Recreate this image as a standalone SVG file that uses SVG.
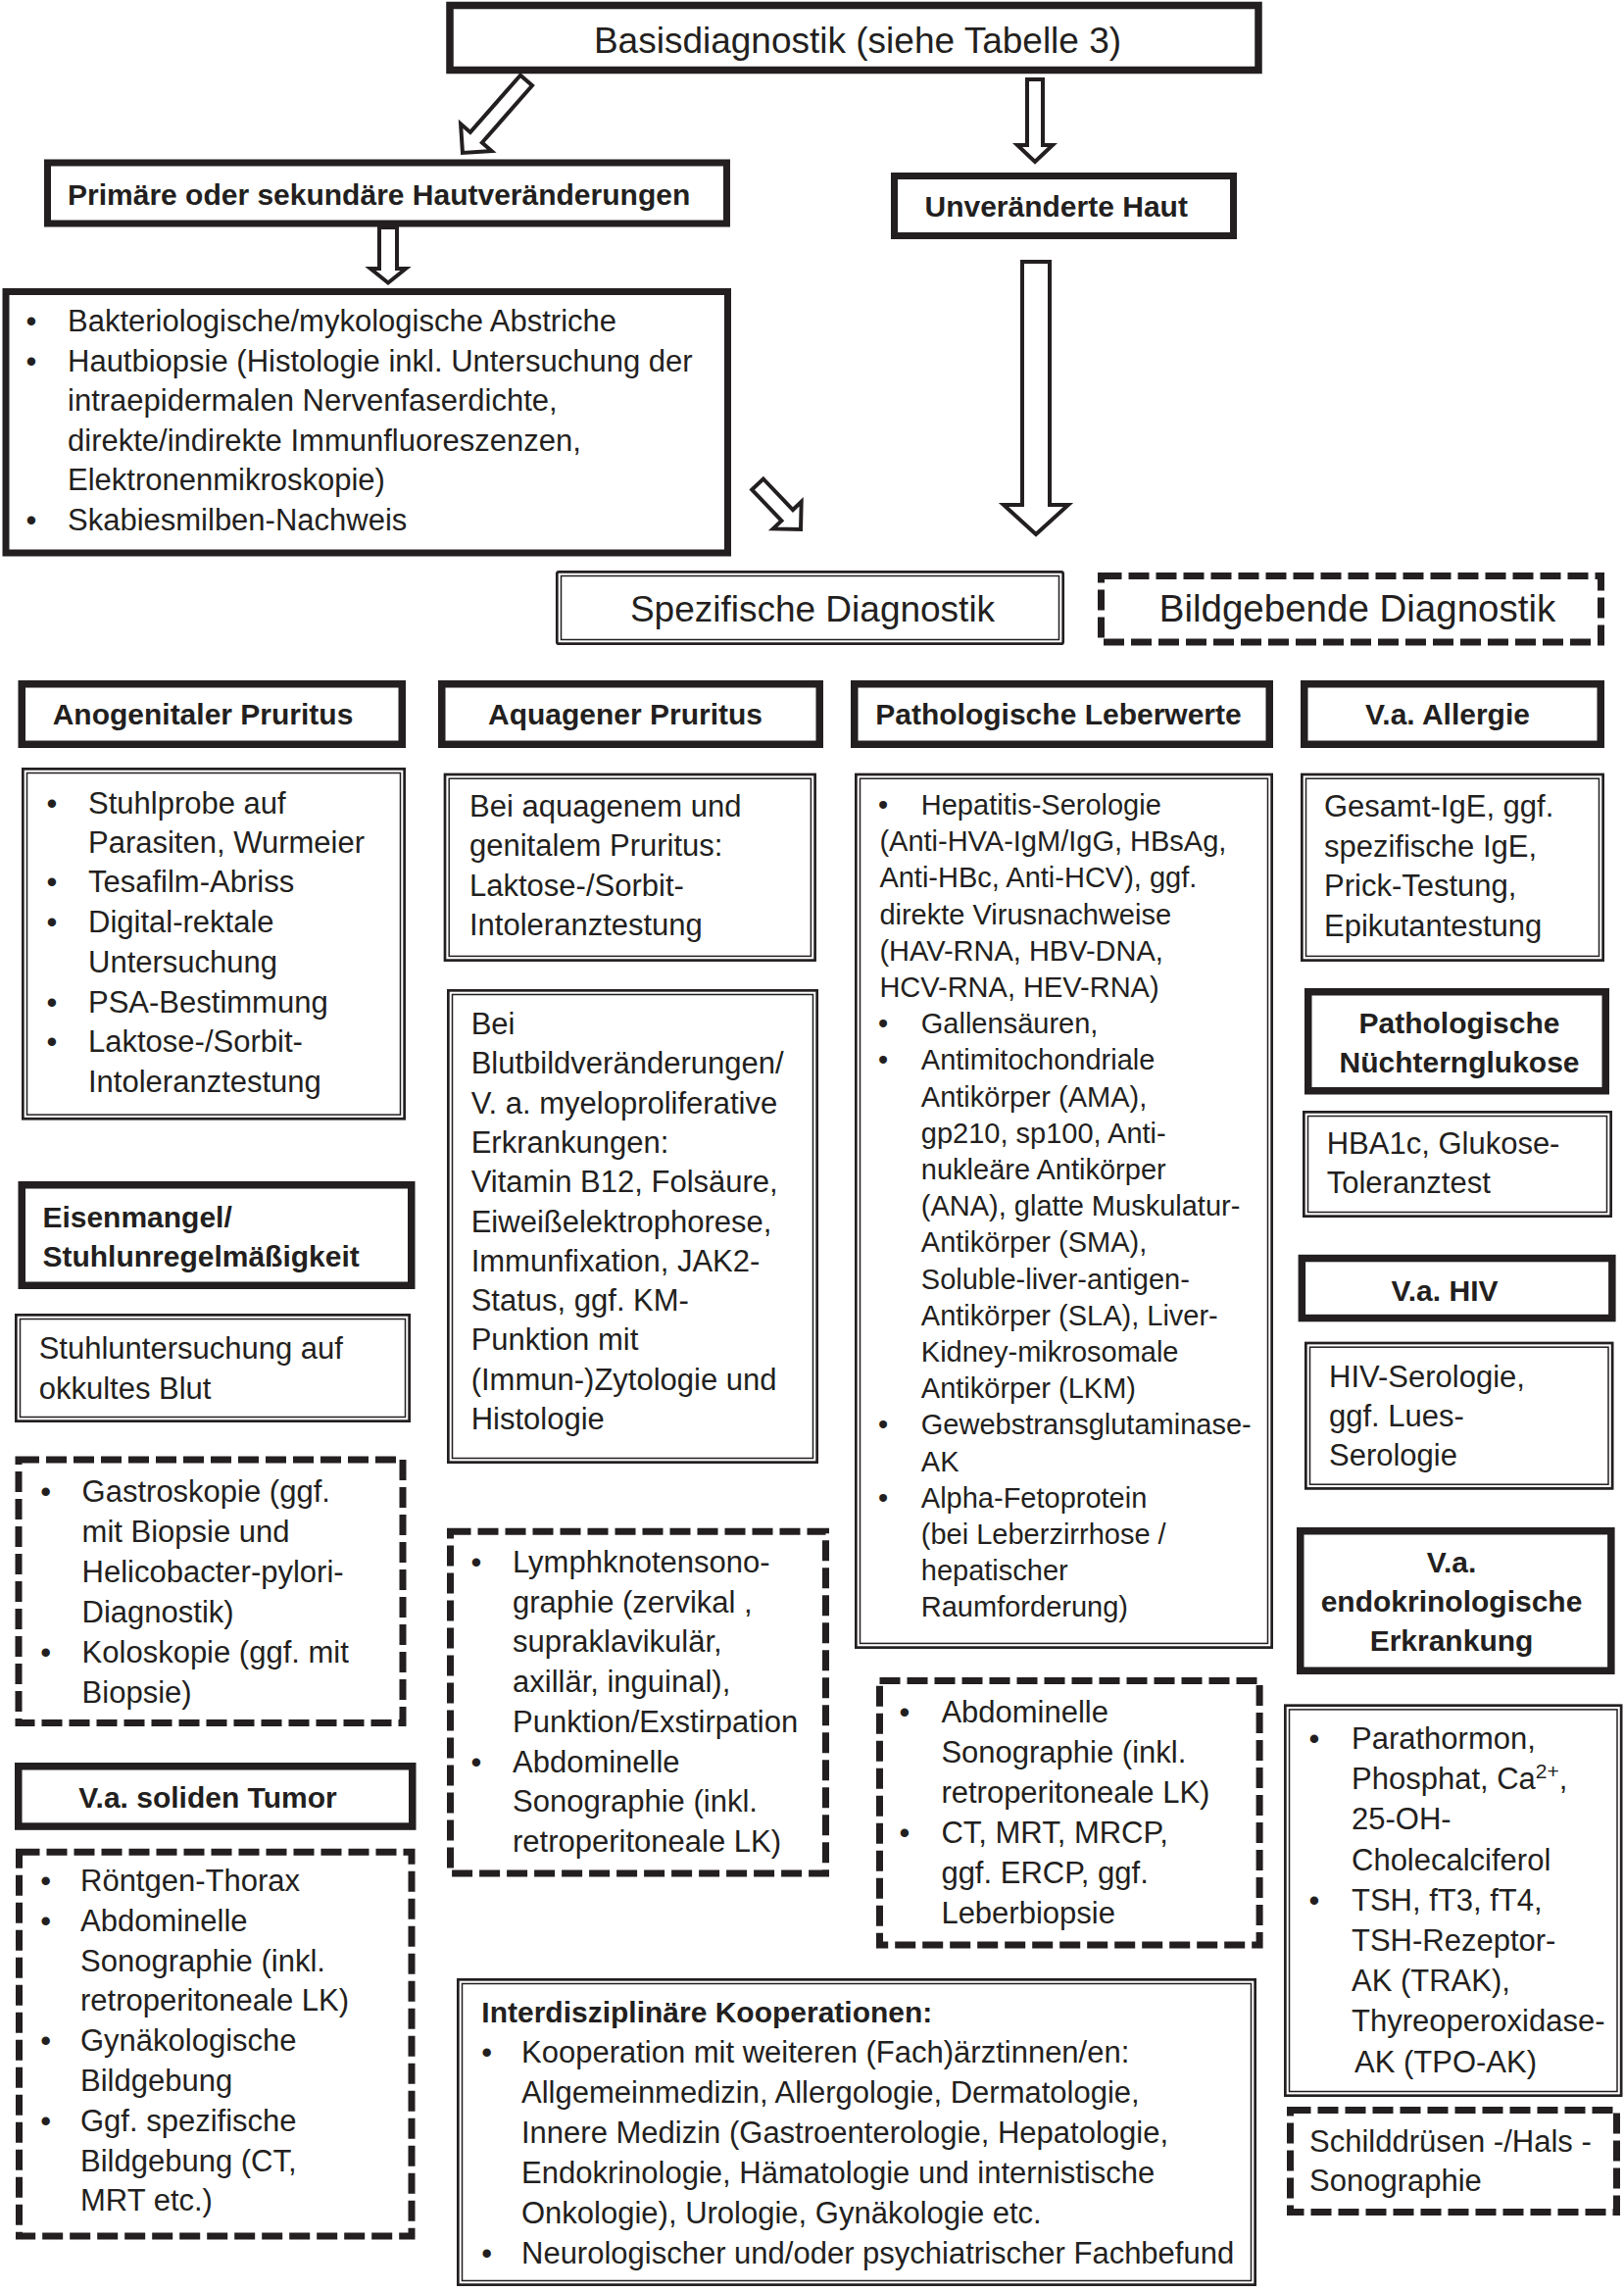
<svg xmlns="http://www.w3.org/2000/svg" width="1657" height="2337" viewBox="0 0 1657 2337">
<style>
.hb{fill:#fff;stroke:#231f20;stroke-width:7.5}
.sb{fill:#fff;stroke:#231f20;stroke-width:7}
.do{fill:#fff;stroke:#231f20;stroke-width:2.7}
.di{fill:none;stroke:#231f20;stroke-width:1.5}
.da{fill:#fff;stroke:#231f20;stroke-width:7;stroke-dasharray:21 7}
.ar{fill:#fff;stroke:#231f20;stroke-width:4;stroke-linejoin:miter}
text{font-family:"Liberation Sans",Arial,sans-serif;fill:#231f20;font-size:31px}
.b{font-weight:bold;font-size:30px}
.s{font-size:29px}
.big{font-size:37px}
.m{text-anchor:middle}
</style>
<rect width="1657" height="2337" fill="#fff"/>
<g id="connectors">
<path class="ar" transform="translate(537,82) rotate(41.3)" d="M-8,0 L8,0 L8,77.5 L21,77.5 L0,98.5 L-21,77.5 L-8,77.5 Z"/>
<path class="ar" d="M1048,81 L1064,81 L1064,148 L1074,148 L1056,165 L1038,148 L1048,148 Z"/>
<path class="ar" d="M387,232 L405,232 L405,274 L414,274 L396,288.5 L378,274 L387,274 Z"/>
<path class="ar" d="M1043,267 L1071,267 L1071,515 L1090,515 L1057,545 L1024,515 L1043,515 Z"/>
<path class="ar" transform="translate(773,494) rotate(-43.7)" d="M-8,0 L8,0 L8,43.7 L20,43.7 L0,63.7 L-20,43.7 L-8,43.7 Z"/>
</g>
<g id="basis">
<rect class="hb" x="459" y="5.5" width="825" height="66"/>
<text class="big m" x="875" y="54">Basisdiagnostik (siehe Tabelle 3)</text>
</g>
<g id="primaer">
<rect class="sb" x="48.5" y="166" width="693" height="62"/>
<text class="b" x="69" y="208.5">Primäre oder sekundäre Hautveränderungen</text>
</g>
<g id="unveraendert">
<rect class="sb" x="912.5" y="179.5" width="346" height="61"/>
<text class="b" x="943.5" y="221">Unveränderte Haut</text>
</g>
<g id="haut-diagnostik">
<rect class="sb" x="6" y="297.5" width="736.5" height="266.5"/>
<text><tspan x="26.5" y="338">•</tspan><tspan x="69" y="338">Bakteriologische/mykologische Abstriche</tspan><tspan x="26.5" y="379">•</tspan><tspan x="69" y="379">Hautbiopsie (Histologie inkl. Untersuchung der</tspan><tspan x="69" y="419">intraepidermalen Nervenfaserdichte,</tspan><tspan x="69" y="460">direkte/indirekte Immunfluoreszenzen,</tspan><tspan x="69" y="500">Elektronenmikroskopie)</tspan><tspan x="26.5" y="541">•</tspan><tspan x="69" y="541">Skabiesmilben-Nachweis</tspan></text>
</g>
<g id="spezifisch">
<rect class="do" x="568.3" y="583.3" width="516.4" height="73.4" rx="2"/>
<rect class="di" x="572.5" y="587.5" width="508" height="65"/>
<text class="big m" x="829" y="634">Spezifische Diagnostik</text>
</g>
<g id="bildgebend">
<rect class="da" x="1123.5" y="587.5" width="510" height="67.5"/>
<text class="big m" x="1385" y="634" style="font-size:38.5px">Bildgebende Diagnostik</text>
</g>
<g id="anogenital">
<rect class="hb" x="22.25" y="697.75" width="388" height="61.5"/>
<text class="b m" x="207" y="739">Anogenitaler Pruritus</text>
</g>
<g id="aquagen">
<rect class="hb" x="450.75" y="697.75" width="385.5" height="61.5"/>
<text class="b m" x="638" y="739">Aquagener Pruritus</text>
</g>
<g id="leberwerte">
<rect class="hb" x="871.75" y="697.75" width="423.5" height="61.5"/>
<text class="b m" x="1080" y="739">Pathologische Leberwerte</text>
</g>
<g id="allergie">
<rect class="hb" x="1330.75" y="697.75" width="302.5" height="61.5"/>
<text class="b m" x="1477" y="739">V.a. Allergie</text>
</g>
<g id="anogenital-inhalt">
<rect class="do" x="23.35" y="784.35" width="389.3" height="356.9"/>
<rect class="di" x="27.5" y="788.5" width="381" height="348.6"/>
<text><tspan x="47.6" y="830">•</tspan><tspan x="90" y="830">Stuhlprobe auf</tspan><tspan x="90" y="870">Parasiten, Wurmeier</tspan><tspan x="47.6" y="910">•</tspan><tspan x="90" y="910">Tesafilm-Abriss</tspan><tspan x="47.6" y="951">•</tspan><tspan x="90" y="951">Digital-rektale</tspan><tspan x="90" y="992">Untersuchung</tspan><tspan x="47.6" y="1033">•</tspan><tspan x="90" y="1033">PSA-Bestimmung</tspan><tspan x="47.6" y="1073">•</tspan><tspan x="90" y="1073">Laktose-/Sorbit-</tspan><tspan x="90" y="1114">Intoleranztestung</tspan></text>
</g>
<g id="aquagen-inhalt1">
<rect class="do" x="454" y="790" width="377.6" height="189.6"/>
<rect class="di" x="458.2" y="794.2" width="369.2" height="181.2"/>
<text><tspan x="479" y="833">Bei aquagenem und</tspan><tspan x="479" y="873">genitalem Pruritus:</tspan><tspan x="479" y="914">Laktose-/Sorbit-</tspan><tspan x="479" y="954">Intoleranztestung</tspan></text>
</g>
<g id="aquagen-inhalt2">
<rect class="do" x="457.35" y="1010.35" width="376.3" height="481.3"/>
<rect class="di" x="461.5" y="1014.5" width="368" height="473"/>
<text><tspan x="480.7" y="1055">Bei</tspan><tspan x="480.7" y="1095">Blutbildveränderungen/</tspan><tspan x="480.7" y="1136">V. a. myeloproliferative</tspan><tspan x="480.7" y="1176">Erkrankungen:</tspan><tspan x="480.7" y="1216">Vitamin B12, Folsäure,</tspan><tspan x="480.7" y="1257">Eiweißelektrophorese,</tspan><tspan x="480.7" y="1297">Immunfixation, JAK2-</tspan><tspan x="480.7" y="1337">Status, ggf. KM-</tspan><tspan x="480.7" y="1377">Punktion mit</tspan><tspan x="480.7" y="1418">(Immun-)Zytologie und</tspan><tspan x="480.7" y="1458">Histologie</tspan></text>
</g>
<g id="leber-inhalt">
<rect class="do" x="873.35" y="790" width="424.3" height="890.6"/>
<rect class="di" x="877.5" y="794.2" width="416" height="882.2"/>
<text class="s"><tspan x="896" y="831">•</tspan><tspan x="939.8" y="831">Hepatitis-Serologie</tspan><tspan x="897.4" y="868.2">(Anti-HVA-IgM/IgG, HBsAg,</tspan><tspan x="897.4" y="905.4">Anti-HBc, Anti-HCV), ggf.</tspan><tspan x="897.4" y="942.6">direkte Virusnachweise</tspan><tspan x="897.4" y="979.8">(HAV-RNA, HBV-DNA,</tspan><tspan x="897.4" y="1017">HCV-RNA, HEV-RNA)</tspan><tspan x="896" y="1054.2">•</tspan><tspan x="939.8" y="1054.2">Gallensäuren,</tspan><tspan x="896" y="1091.4">•</tspan><tspan x="939.8" y="1091.4">Antimitochondriale</tspan><tspan x="939.8" y="1128.6">Antikörper (AMA),</tspan><tspan x="939.8" y="1165.8">gp210, sp100, Anti-</tspan><tspan x="939.8" y="1203">nukleäre Antikörper</tspan><tspan x="939.8" y="1240.2">(ANA), glatte Muskulatur-</tspan><tspan x="939.8" y="1277.4">Antikörper (SMA),</tspan><tspan x="939.8" y="1314.6">Soluble-liver-antigen-</tspan><tspan x="939.8" y="1351.8">Antikörper (SLA), Liver-</tspan><tspan x="939.8" y="1389">Kidney-mikrosomale</tspan><tspan x="939.8" y="1426.2">Antikörper (LKM)</tspan><tspan x="896" y="1463.4">•</tspan><tspan x="939.8" y="1463.4">Gewebstransglutaminase-</tspan><tspan x="939.8" y="1500.6">AK</tspan><tspan x="896" y="1537.8">•</tspan><tspan x="939.8" y="1537.8">Alpha-Fetoprotein</tspan><tspan x="939.8" y="1575">(bei Leberzirrhose /</tspan><tspan x="939.8" y="1612.2">hepatischer</tspan><tspan x="939.8" y="1649.4">Raumforderung)</tspan></text>
</g>
<g id="allergie-inhalt">
<rect class="do" x="1328.35" y="790" width="307.3" height="189.6"/>
<rect class="di" x="1332.5" y="794.2" width="299" height="181.2"/>
<text><tspan x="1351" y="833">Gesamt-IgE, ggf.</tspan><tspan x="1351" y="873.5">spezifische IgE,</tspan><tspan x="1351" y="914">Prick-Testung,</tspan><tspan x="1351" y="954.5">Epikutantestung</tspan></text>
</g>
<g id="glukose">
<rect class="hb" x="1334.75" y="1011.75" width="303.5" height="101"/>
<text class="b m"><tspan x="1489" y="1054">Pathologische</tspan><tspan x="1489" y="1094">Nüchternglukose</tspan></text>
</g>
<g id="glukose-inhalt">
<rect class="do" x="1330.35" y="1134.35" width="313.3" height="106.3"/>
<rect class="di" x="1334.5" y="1138.5" width="305" height="98"/>
<text><tspan x="1353.7" y="1177">HBA1c, Glukose-</tspan><tspan x="1353.7" y="1217">Toleranztest</tspan></text>
</g>
<g id="hiv">
<rect class="hb" x="1328.35" y="1283.55" width="316.5" height="61"/>
<text class="b m" x="1474" y="1326.5">V.a. HIV</text>
</g>
<g id="hiv-inhalt">
<rect class="do" x="1332.35" y="1370" width="312.8" height="148.4"/>
<rect class="di" x="1336.5" y="1374.2" width="304.5" height="140"/>
<text><tspan x="1356" y="1414.5">HIV-Serologie,</tspan><tspan x="1356" y="1454.7">ggf. Lues-</tspan><tspan x="1356" y="1494.9">Serologie</tspan></text>
</g>
<g id="endokrin">
<rect class="hb" x="1326.75" y="1561.75" width="317.1" height="142.5"/>
<text class="b m"><tspan x="1481" y="1604">V.a.</tspan><tspan x="1481" y="1644">endokrinologische</tspan><tspan x="1481" y="1684">Erkrankung</tspan></text>
</g>
<g id="endokrin-inhalt">
<rect class="do" x="1311.35" y="1739.7" width="342.8" height="398"/>
<rect class="di" x="1315.5" y="1743.9" width="334.5" height="389.6"/>
<text><tspan x="1335.6" y="1784">•</tspan><tspan x="1379" y="1784">Parathormon,</tspan><tspan x="1379" y="1825.2">Phosphat, Ca</tspan><tspan dy="-11" font-size="21">2+</tspan><tspan dy="11">,</tspan><tspan x="1379" y="1866.4">25-OH-</tspan><tspan x="1379" y="1907.6">Cholecalciferol</tspan><tspan x="1335.6" y="1948.8">•</tspan><tspan x="1379" y="1948.8">TSH, fT3, fT4,</tspan><tspan x="1379" y="1990">TSH-Rezeptor-</tspan><tspan x="1379" y="2031.2">AK (TRAK),</tspan><tspan x="1379" y="2072.4">Thyreoperoxidase-</tspan><tspan x="1382" y="2113.6">AK (TPO-AK)</tspan></text>
</g>
<g id="schilddruese">
<rect class="da" x="1316.5" y="2152.5" width="333" height="104"/>
<text><tspan x="1336" y="2195">Schilddrüsen -/Hals -</tspan><tspan x="1336" y="2235">Sonographie</tspan></text>
</g>
<g id="eisenmangel">
<rect class="hb" x="22.25" y="1208.75" width="397.5" height="102.5"/>
<text class="b"><tspan x="43.4" y="1252">Eisenmangel/</tspan><tspan x="43.4" y="1292">Stuhlunregelmäßigkeit</tspan></text>
</g>
<g id="stuhl">
<rect class="do" x="16.35" y="1341.35" width="401.3" height="108.3"/>
<rect class="di" x="20.5" y="1345.5" width="393" height="100"/>
<text><tspan x="39.7" y="1386">Stuhluntersuchung auf</tspan><tspan x="39.7" y="1427">okkultes Blut</tspan></text>
</g>
<g id="endoskopie">
<rect class="da" x="19" y="1489" width="392" height="268.5"/>
<text><tspan x="41.2" y="1532">•</tspan><tspan x="83.6" y="1532">Gastroskopie (ggf.</tspan><tspan x="83.6" y="1573">mit Biopsie und</tspan><tspan x="83.6" y="1614">Helicobacter-pylori-</tspan><tspan x="83.6" y="1655">Diagnostik)</tspan><tspan x="41.2" y="1696">•</tspan><tspan x="83.6" y="1696">Koloskopie (ggf. mit</tspan><tspan x="83.6" y="1737">Biopsie)</tspan></text>
</g>
<g id="lymph">
<rect class="da" x="459.5" y="1562.3" width="383" height="348.6"/>
<text><tspan x="480.6" y="1604">•</tspan><tspan x="523" y="1604">Lymphknotensono-</tspan><tspan x="523" y="1644.7">graphie (zervikal ,</tspan><tspan x="523" y="1685.4">supraklavikulär,</tspan><tspan x="523" y="1726.1">axillär, inguinal),</tspan><tspan x="523" y="1766.8">Punktion/Exstirpation</tspan><tspan x="480.6" y="1807.5">•</tspan><tspan x="523" y="1807.5">Abdominelle</tspan><tspan x="523" y="1848.2">Sonographie (inkl.</tspan><tspan x="523" y="1888.9">retroperitoneale LK)</tspan></text>
</g>
<g id="tumor">
<rect class="hb" x="18.75" y="1801.75" width="402" height="61.3"/>
<text class="b m" x="212" y="1843.6">V.a. soliden Tumor</text>
</g>
<g id="tumor-inhalt">
<rect class="da" x="19.5" y="1889.3" width="400.5" height="391.7"/>
<text><tspan x="41.2" y="1929">•</tspan><tspan x="82" y="1929">Röntgen-Thorax</tspan><tspan x="41.2" y="1969.8">•</tspan><tspan x="82" y="1969.8">Abdominelle</tspan><tspan x="82" y="2010.6">Sonographie (inkl.</tspan><tspan x="82" y="2051.4">retroperitoneale LK)</tspan><tspan x="41.2" y="2092.2">•</tspan><tspan x="82" y="2092.2">Gynäkologische</tspan><tspan x="82" y="2133">Bildgebung</tspan><tspan x="41.2" y="2173.8">•</tspan><tspan x="82" y="2173.8">Ggf. spezifische</tspan><tspan x="82" y="2214.6">Bildgebung (CT,</tspan><tspan x="82" y="2255.4">MRT etc.)</tspan></text>
</g>
<g id="leber-bildgebung">
<rect class="da" x="897.5" y="1714.5" width="387.6" height="269.5"/>
<text><tspan x="917.6" y="1757">•</tspan><tspan x="960.4" y="1757">Abdominelle</tspan><tspan x="960.4" y="1798">Sonographie (inkl.</tspan><tspan x="960.4" y="1839">retroperitoneale LK)</tspan><tspan x="917.6" y="1880">•</tspan><tspan x="960.4" y="1880">CT, MRT, MRCP,</tspan><tspan x="960.4" y="1921">ggf. ERCP, ggf.</tspan><tspan x="960.4" y="1962">Leberbiopsie</tspan></text>
</g>
<g id="interdisziplinaer">
<rect class="do" x="467.35" y="2019.35" width="813.3" height="311.3"/>
<rect class="di" x="471.5" y="2023.5" width="805" height="303"/>
<text class="b" x="491.3" y="2063">Interdisziplinäre Kooperationen:</text>
<text><tspan x="491.2" y="2104">•</tspan><tspan x="532" y="2104">Kooperation mit weiteren (Fach)ärztinnen/en:</tspan><tspan x="532" y="2145">Allgemeinmedizin, Allergologie, Dermatologie,</tspan><tspan x="532" y="2186">Innere Medizin (Gastroenterologie, Hepatologie,</tspan><tspan x="532" y="2227">Endokrinologie, Hämatologie und internistische</tspan><tspan x="532" y="2268">Onkologie), Urologie, Gynäkologie etc.</tspan><tspan x="491.2" y="2309">•</tspan><tspan x="532" y="2309">Neurologischer und/oder psychiatrischer Fachbefund</tspan></text>
</g>
</svg>
